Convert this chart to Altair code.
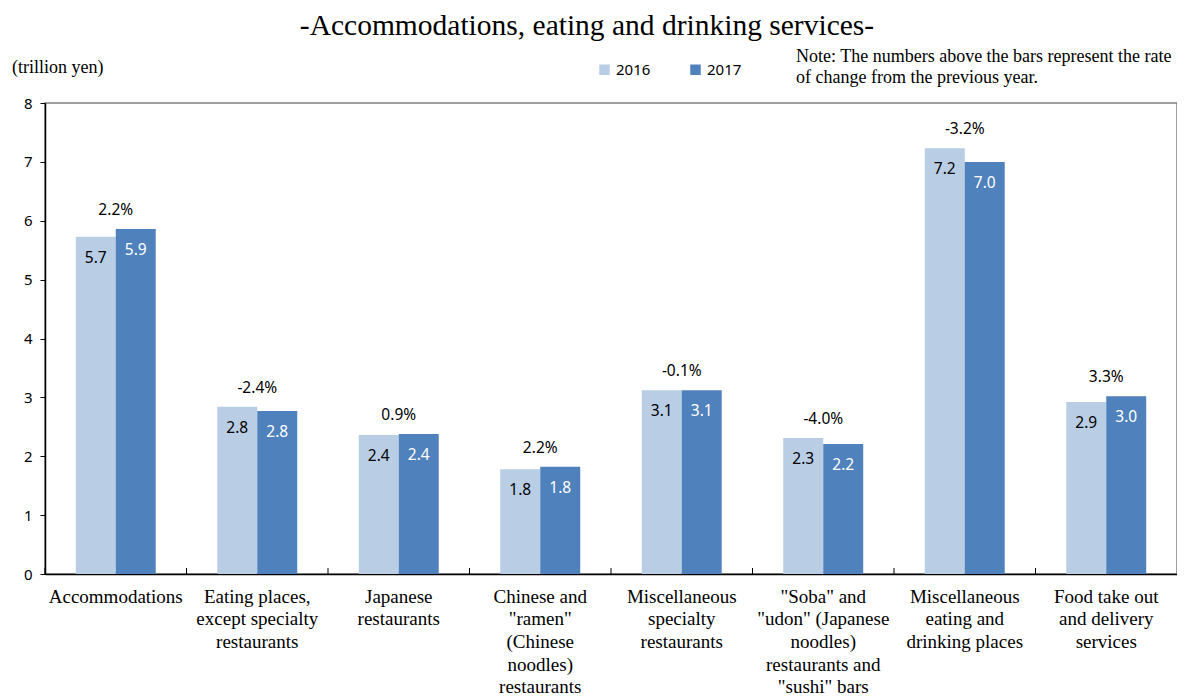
import altair as alt
import pandas as pd

categories = [
    "Accommodations",
    "Eating places,|except specialty|restaurants",
    "Japanese|restaurants",
    'Chinese and|"ramen"|(Chinese|noodles)|restaurants',
    "Miscellaneous|specialty|restaurants",
    '"Soba" and|"udon" (Japanese|noodles)|restaurants and|"sushi" bars',
    "Miscellaneous|eating and|drinking places",
    "Food take out|and delivery|services",
]
years = ["2016", "2017"]
values_2016 = [5.73, 2.84, 2.36, 1.78, 3.12, 2.31, 7.23, 2.92]
values_2017 = [5.86, 2.77, 2.38, 1.82, 3.12, 2.21, 7.00, 3.02]
labels_2016 = ["5.7", "2.8", "2.4", "1.8", "3.1", "2.3", "7.2", "2.9"]
labels_2017 = ["5.9", "2.8", "2.4", "1.8", "3.1", "2.2", "7.0", "3.0"]
change_labels = ["2.2%", "-2.4%", "0.9%", "2.2%", "-0.1%", "-4.0%", "-3.2%", "3.3%"]
y_ticks = [0, 1, 2, 3, 4, 5, 6, 7, 8]

title_text = "-Accommodations, eating and drinking services-"
unit_text = "(trillion yen)"
note_lines = ["Note: The numbers above the bars represent the rate",
              "of change from the previous year."]

colors = ["#B9CDE5", "#4F81BD"]
SERIF = "Liberation Serif"
SANS = "Noto Sans"

rows = []
for i, c in enumerate(categories):
    rows.append({"cat": c, "year": years[0], "value": values_2016[i], "label": labels_2016[i]})
    rows.append({"cat": c, "year": years[1], "value": values_2017[i], "label": labels_2017[i]})
bars_df = pd.DataFrame(rows)

chg_df = pd.DataFrame({
    "cat": categories,
    "top": [max(a, b) for a, b in zip(values_2016, values_2017)],
    "label": change_labels,
})

W, H = 1132, 471

x_enc = alt.X(
    "cat:N", sort=categories, title=None,
    scale=alt.Scale(paddingInner=0, paddingOuter=0),
    axis=alt.Axis(
        labelAngle=0, labelFont=SERIF, labelFontSize=19, labelColor="black",
        labelLineHeight=22.7, labelPadding=13, labelLimit=300,
        labelExpr="split(datum.label, '|')",
        ticks=False, domainColor="black", domainWidth=1.5, grid=False,
    ),
)
y_enc = alt.Y(
    "value:Q", title=None,
    scale=alt.Scale(domain=[0, 8], nice=False),
    axis=alt.Axis(
        values=y_ticks, format="d", labelFont=SANS, labelFontSize=15, labelColor="black",
        tickSize=5, tickColor="black", labelPadding=8,
        domainColor="black", domainWidth=1.5, grid=False,
    ),
)
xoff = alt.XOffset("year:N", scale=alt.Scale(paddingOuter=0.77, paddingInner=0))

base = alt.Chart(bars_df)

bars = base.mark_bar().encode(
    x=x_enc, y=y_enc, xOffset=xoff,
    color=alt.Color(
        "year:N", scale=alt.Scale(domain=years, range=colors),
        legend=alt.Legend(
            title=None, orient="none", legendX=552, legendY=-41,
            direction="horizontal", symbolType="square", symbolSize=110,
            symbolStrokeWidth=0, labelFont=SANS, labelFontSize=15,
            labelColor="black", columnPadding=37, labelOffset=4, padding=0,
        ),
    ),
)

lab16 = base.transform_filter(alt.datum.year == years[0]).mark_text(
    baseline="middle", dy=21, font=SANS, fontSize=15.5, color="black"
).encode(x=alt.X("cat:N", sort=categories), y="value:Q", xOffset=xoff, text="label:N")

lab17 = base.transform_filter(alt.datum.year == years[1]).mark_text(
    baseline="middle", dy=21, font=SANS, fontSize=15.5, color="white"
).encode(x=alt.X("cat:N", sort=categories), y="value:Q", xOffset=xoff, text="label:N")

chg = alt.Chart(chg_df).mark_text(
    baseline="middle", dy=-19, font=SANS, fontSize=15.5, color="black"
).encode(x=alt.X("cat:N", sort=categories), y=alt.Y("top:Q"), text="label:N")

ticks = alt.Chart(chg_df).mark_rule(color="black", strokeWidth=1).encode(
    x=alt.X("cat:N", sort=categories, bandPosition=0),
    y=alt.value(H), y2=alt.value(H - 6),
)

title = alt.Chart(pd.DataFrame({"t": [title_text]})).mark_text(
    font=SERIF, fontSize=29.5, align="center", baseline="middle", color="black"
).encode(x=alt.value(542), y=alt.value(-77), text="t:N")

unit = alt.Chart(pd.DataFrame({"t": [unit_text]})).mark_text(
    font=SERIF, fontSize=18, align="left", baseline="middle", color="black"
).encode(x=alt.value(-33), y=alt.value(-35), text="t:N")

note = alt.Chart(pd.DataFrame({"t": ["\n".join(note_lines)]})).mark_text(
    font=SERIF, fontSize=18, align="left", baseline="middle", color="black",
    lineBreak="\n", lineHeight=21,
).encode(x=alt.value(751), y=alt.value(-46), text="t:N")

chart = alt.layer(bars, lab16, lab17, chg, ticks, title, unit, note).properties(
    width=W, height=H,
    padding={"left": 4, "top": 3, "right": 0, "bottom": 0},
).configure_view(stroke="#808080", strokeWidth=1.5)

chart.save("out.html", embed_options={"renderer": "svg", "actions": False})
